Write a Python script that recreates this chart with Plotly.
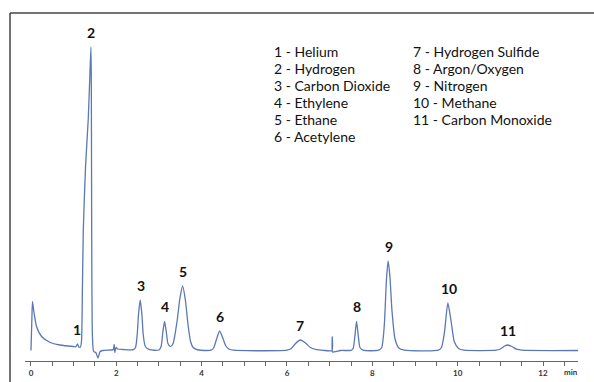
import plotly.graph_objects as go

# ---- chromatogram trace (time in min, signal in arbitrary units) ----
time_min = [
    0.00, 0.02, 0.035, 0.07, 0.13, 0.25, 0.45, 0.68, 0.99, 1.05, 1.09, 1.12, 1.16,
    1.185, 1.205, 1.226, 1.28, 1.343, 1.38, 1.406, 1.415, 1.423, 1.44, 1.47, 1.52, 1.57, 1.62, 1.68,
    1.90, 1.93, 1.95, 1.965, 1.99, 2.03, 2.15,
    2.40, 2.45, 2.49, 2.52, 2.56, 2.60, 2.63, 2.68, 2.78,
    3.00, 3.05, 3.09, 3.13, 3.17, 3.21, 3.27, 3.33, 3.42, 3.49, 3.555, 3.62, 3.68, 3.74, 3.80, 3.92,
    4.22, 4.28, 4.34, 4.42, 4.50, 4.56, 4.64, 4.75,
    6.00, 6.10, 6.20, 6.31, 6.42, 6.55, 6.70, 6.85,
    7.055, 7.06, 7.068, 7.15, 7.25,
    7.50, 7.55, 7.59, 7.63, 7.67, 7.71, 7.78,
    8.15, 8.22, 8.28, 8.33, 8.37, 8.41, 8.46, 8.53, 8.62, 8.75,
    9.55, 9.62, 9.69, 9.77, 9.85, 9.92, 10.02, 10.15,
    10.90, 11.00, 11.10, 11.18, 11.27, 11.38, 11.50,
    12.82,
]
signal = [
    0.0, 30, 49, 38, 24, 14, 8, 5.5, 4, 3.8, 6.5, 3.5, 3.5,
    10, 60, 120, 185, 232, 275, 303.5, 260, 120, 15, -1, -2, -7.5, -1, 0,
    0.5, 1, 6, -2, 3, 1.5, 1,
    0.8, 3, 16, 36, 50.5, 36, 16, 4, 0.8,
    0.5, 4, 18, 29, 19, 7, 3.8, 7, 28, 52, 64.5, 50, 26, 9, 3, 0.5,
    0.3, 2.5, 10, 19.5, 12, 5, 1.5, 0.3,
    0.3, 2, 7, 10.5, 8, 3, 0.8, 0.2,
    0, 13.5, -1.5, -1, 0,
    0.2, 2, 14, 29, 15, 3, 0.3,
    0.3, 3, 25, 70, 89.5, 75, 40, 12, 2.5, 0.3,
    0.3, 3, 18, 47.5, 28, 9, 2, 0.3,
    0.3, 1.5, 4.5, 5.5, 4, 1.3, 0.3,
    0.0,
]

# ---- peak numbers and their apex positions ----
peak_ids = ["1", "2", "3", "4", "5", "6", "7", "8", "9", "10", "11"]
peak_times = [1.09, 1.41, 2.58, 3.14, 3.555, 4.42, 6.31, 7.63, 8.38, 9.79, 11.19]
peak_heights = [6.5, 303.5, 50.5, 29, 64.5, 19.5, 10.5, 29, 89.5, 47.5, 5.5]

# ---- compound key ----
key_col1 = ["1 - Helium", "2 - Hydrogen", "3 - Carbon Dioxide", "4 - Ethylene",
            "5 - Ethane", "6 - Acetylene"]
key_col2 = ["7 - Hydrogen Sulfide", "8 - Argon/Oxygen", "9 - Nitrogen",
            "10 - Methane", "11 - Carbon Monoxide"]

# ---- axis ticks ----
tick_vals = [0, 2, 4, 6, 8, 10, 12]
tick_text = ["0", "2", "4", "6", "8", "10", "12"]

W, H = 594, 382
ML, MR, MT, MB = 25, 16, 13, 21
PW, PH = W - ML - MR, H - MT - MB


def px_x(px):
    return (px - ML) / PW


def px_y(py):
    return (H - MB - py) / PH


LINE = "#5a78b6"
TXT = "#111111"
FONT = "Lato"

fig = go.Figure()
fig.add_trace(go.Scatter(
    x=time_min, y=signal, mode="lines",
    line=dict(color=LINE, width=1.3, shape="spline", smoothing=0.6),
    hoverinfo="skip", showlegend=False,
))

annotations = []
for pid, pt, ph in zip(peak_ids, peak_times, peak_heights):
    annotations.append(dict(
        x=pt, y=ph, xref="x", yref="y", text=pid, showarrow=False,
        yshift=15, font=dict(family=FONT, size=14, color=TXT, weight="bold"),
        xanchor="center", yanchor="middle",
    ))

for i, t in enumerate(key_col1):
    annotations.append(dict(
        x=px_x(272), y=px_y(52 + i * 16.9), xref="paper", yref="paper", text=t,
        showarrow=False, xanchor="left", yanchor="middle",
        font=dict(family=FONT, size=14, color=TXT),
    ))
for i, t in enumerate(key_col2):
    annotations.append(dict(
        x=px_x(411), y=px_y(52 + i * 16.9), xref="paper", yref="paper", text=t,
        showarrow=False, xanchor="left", yanchor="middle",
        font=dict(family=FONT, size=14, color=TXT),
    ))

annotations.append(dict(
    x=px_x(571), y=px_y(372), xref="paper", yref="paper", text="min",
    showarrow=False, xanchor="center", yanchor="middle",
    font=dict(family=FONT, size=8, color="#333", weight="bold"),
))

shapes = [
    dict(type="line", xref="paper", yref="paper", x0=px_x(10), x1=px_x(600),
         y0=px_y(13), y1=px_y(13), line=dict(color="#444", width=1.5)),
    dict(type="line", xref="paper", yref="paper", x0=px_x(10), x1=px_x(10),
         y0=px_y(13), y1=px_y(390), line=dict(color="#444", width=1.5)),
]

fig.update_layout(
    width=W, height=H,
    margin=dict(l=ML, r=MR, t=MT, b=MB, pad=0, autoexpand=False),
    paper_bgcolor="white", plot_bgcolor="white",
    showlegend=False,
    annotations=annotations,
    shapes=shapes,
    xaxis=dict(
        range=[-0.14, 12.82], showgrid=False, zeroline=False, automargin=False,
        showline=True, linecolor="#666", linewidth=1.3,
        ticks="outside", ticklen=4, tickwidth=1, tickcolor="#666",
        tickvals=tick_vals, ticktext=tick_text,
        tickfont=dict(family=FONT, size=8, color="#333", weight="bold"),
        minor=dict(dtick=0.5, tick0=0, ticks="outside", ticklen=4, tickwidth=1, tickcolor="#666"),
    ),
    yaxis=dict(range=[-10.5, 337.5], visible=False, showgrid=False, zeroline=False,
               automargin=False),
)

fig.write_html(
    "out.html",
    config={"displayModeBar": False, "staticPlot": True},
    post_script="document.body.style.margin='0';document.body.style.overflow='hidden';",
)
